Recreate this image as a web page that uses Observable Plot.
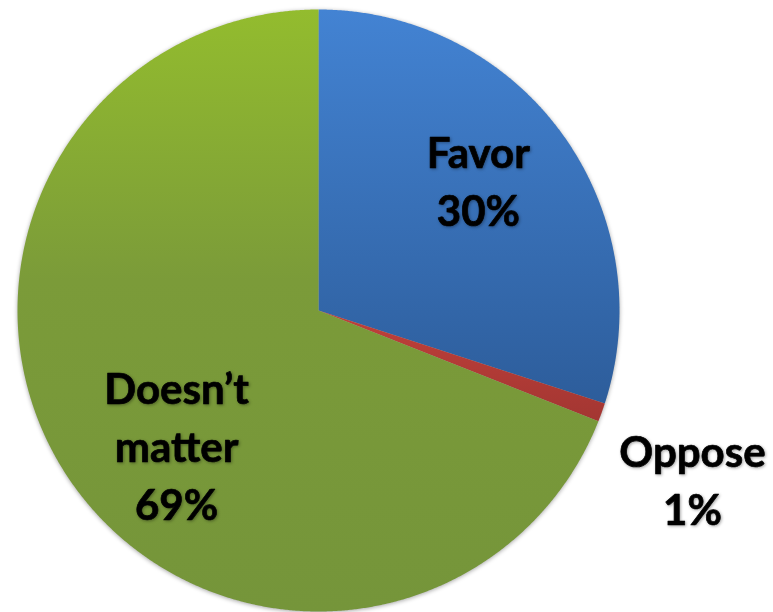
<!DOCTYPE html>
<html><head><meta charset="utf-8">
<script src="https://cdn.jsdelivr.net/npm/d3@7"></script>
<script src="https://cdn.jsdelivr.net/npm/@observablehq/plot@0.6"></script>
<style>
body{margin:0;background:#fff;}
.pie{filter:drop-shadow(0px 1px 2px rgba(0,0,0,0.35));}
.lbl{filter:drop-shadow(1.5px 1.5px 1.5px rgba(0,0,0,0.35));}
</style></head><body><div id="chart"></div>
<script>
const categories = ["Favor", "Oppose", "Doesn’t matter"];
const values = [30, 1, 69];
const labels = ["Favor\n30%", "Oppose\n1%", "Doesn’t\nmatter\n69%"];
const gradientIds = ["gBlue", "gRed", "gGreen"];

const arcs = d3.pie().sort(null).value(d => d)(values);
const pts = [];
const labelRows = [];
arcs.forEach((s, i) => {
  const n = Math.max(2, Math.ceil((s.endAngle - s.startAngle) / 0.005));
  pts.push({cat: categories[i], x: 0, y: 0});
  for (let k = 0; k <= n; k++) {
    const a = s.startAngle + (s.endAngle - s.startAngle) * k / n;
    pts.push({cat: categories[i], x: Math.sin(a), y: Math.cos(a)});
  }
  pts.push({cat: categories[i], x: 0, y: 0});
  const share = values[i] / d3.sum(values);
  const mid = (s.startAngle + s.endAngle) / 2;
  const rr = share < 0.05 ? 1.366 : (share > 0.5 ? 0.655 : 0.68);
  const adj = share < 0.05 ? 0.083 : (share > 0.5 ? -0.17 : -0.046);
  labelRows.push({text: labels[i], x: rr * Math.sin(mid + adj), y: rr * Math.cos(mid + adj)});
});

function defs() {
  const d = d3.create("svg:defs");
  const g1 = d.append("linearGradient").attr("id", "gBlue").attr("x1", 0).attr("y1", 0).attr("x2", 0).attr("y2", 1);
  g1.append("stop").attr("offset", "0%").attr("stop-color", "#4383d3");
  g1.append("stop").attr("offset", "100%").attr("stop-color", "#2d5d9b");
  const g2 = d.append("linearGradient").attr("id", "gRed").attr("x1", 0).attr("y1", 0).attr("x2", 0).attr("y2", 1);
  g2.append("stop").attr("offset", "0%").attr("stop-color", "#c0403a");
  g2.append("stop").attr("offset", "100%").attr("stop-color", "#a33632");
  const g3 = d.append("linearGradient").attr("id", "gGreen").attr("x1", 0).attr("y1", 0).attr("x2", 0).attr("y2", 1);
  g3.append("stop").attr("offset", "0%").attr("stop-color", "#93bc2e");
  g3.append("stop").attr("offset", "45%").attr("stop-color", "#7b9b39");
  g3.append("stop").attr("offset", "100%").attr("stop-color", "#75953a");
  return d.node();
}

const chart = Plot.plot({
  width: 773,
  height: 612,
  margin: 0,
  x: {domain: [-1, 1], range: [17, 619], axis: null},
  y: {domain: [-1, 1], range: [611, 9], axis: null},
  marks: [
    defs,
    Plot.line(pts, {x: "x", y: "y", z: "cat", fill: d => `url(#${gradientIds[categories.indexOf(d.cat)]})`, stroke: "none", className: "pie", curve: "linear"}),
    Plot.text(labelRows, {x: "x", y: "y", text: "text", dy: -4, fontSize: 42, fontWeight: "bold", fontFamily: "Lato", fill: "#000", stroke: "#000", strokeWidth: 0.7, lineHeight: 1.38, className: "lbl"})
  ]
});
document.getElementById("chart").appendChild(chart);
</script></body></html>
